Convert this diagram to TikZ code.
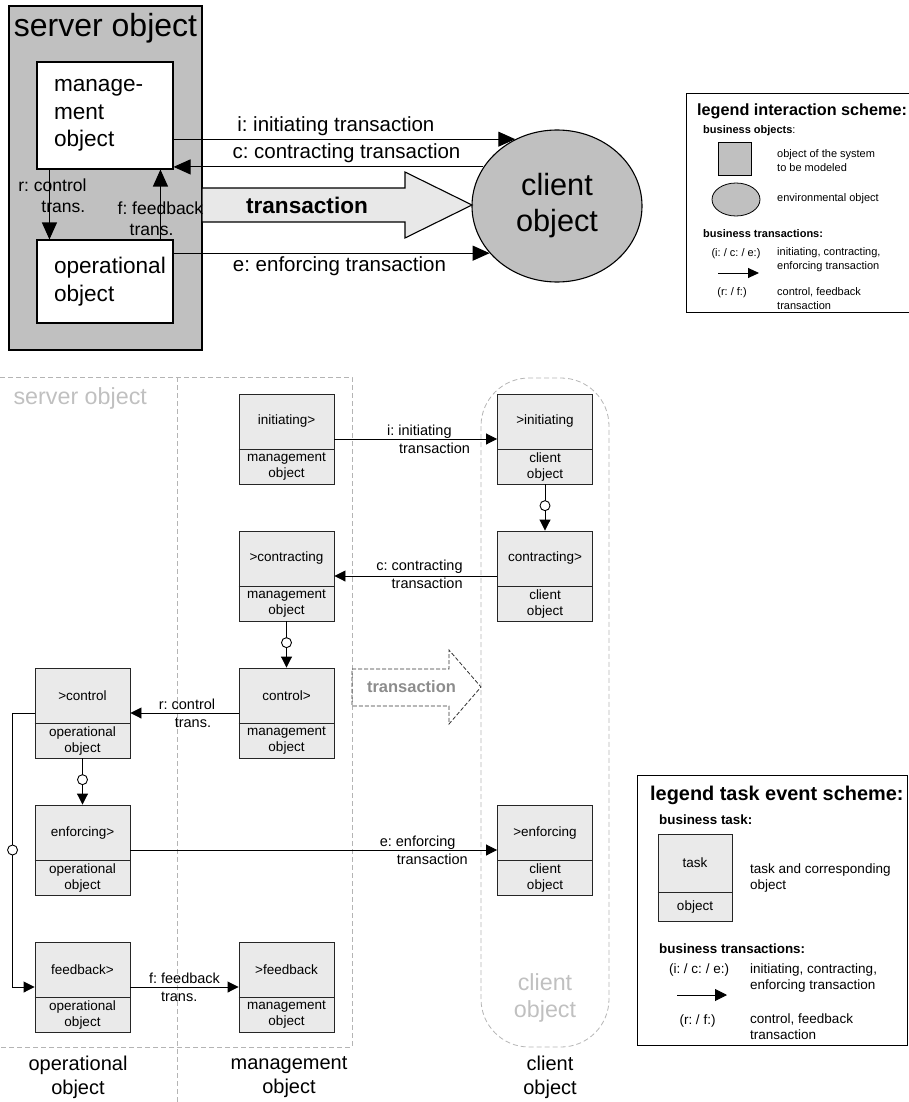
\documentclass[tikz,border=0pt]{standalone}
\usepackage{fontspec}
\setmainfont{Liberation Sans}
\usetikzlibrary{calc,arrows.meta,shapes.geometric}
\frenchspacing
\newcommand{\fsz}[2]{\fontsize{#1}{#2}\selectfont}
\definecolor{objgray}{HTML}{C0C0C0}
\definecolor{taskfill}{HTML}{EAEAEA}
\definecolor{arrowfill}{HTML}{E8E8E8}
\definecolor{lanegray}{HTML}{B4B4B4}
\tikzset{
   taskbox/.style={draw=black!85, fill=taskfill, line width=0.9pt,
                   minimum width=95pt, minimum height=90pt, inner sep=0pt},
   tasktext/.style={font=\fsz{13.5}{16}, align=center, inner sep=0pt},
}
% task box: [options]{name}{position}{divider above bottom}{task}{object}
\newcommand{\taskbox}[6][]{%
  \node[taskbox,#1] (#2) at (#3) {};
  \coordinate (#2-d) at ($(#2.south)+(0,-#4)$);
  \draw[line width=0.9pt, black!85] (#2.west |- #2-d) -- (#2.east |- #2-d);
  \node[tasktext] at ($(#2.north)!0.5!(#2-d)$) {#5};
  \node[tasktext] at ($(#2.south)!0.5!(#2-d)$) {#6};
}

\begin{document}
\begin{tikzpicture}[x=1pt, y=-1pt,
                    server/.style={draw, fill=objgray, line width=1.1pt, inner sep=0pt,
                                   minimum width=193pt, minimum height=344pt},
                    subobj/.style={draw, fill=white, line width=1.1pt, align=left,
                                   text width=102pt, inner xsep=17pt, inner ysep=0pt,
                                   font=\fsz{22.6}{27.5}},
                    bigarr/.style={-{Triangle[length=17pt,width=15pt]}, line width=1.1pt},
                    toplbl/.style={font=\fsz{20.5}{24}},
                    sidelbl/.style={font=\fsz{17.5}{21}, align=left, inner sep=0pt},
                    taskarr/.style={-{Triangle[length=11pt,width=11pt]}, line width=0.9pt},
                    lowlbl/.style={font=\fsz{14.5}{18}, align=left, inner sep=0pt},
                    evt/.style={circle, draw, fill=white, line width=0.9pt, minimum size=10pt, inner sep=0pt},
                    lane/.style={draw=lanegray, line width=0.8pt, dash pattern=on 5pt off 3pt},
                    lanetext/.style={text=objgray, font=\fsz{23.3}{27}, align=center},
                    colhead/.style={font=\fsz{20}{24}, align=center, inner sep=0pt},
                    legbox/.style={draw, line width=0.9pt, inner sep=0pt},
                    legtext/.style={font=\fsz{11}{14}, align=left, inner sep=0pt},
                    legtextb/.style={font=\fsz{13.5}{16}, align=left, inner sep=0pt}]
\useasboundingbox (0,0) rectangle (908,1102);
%
% interaction scheme
\node[server] (server) at (105.5,178) {};
\node[font=\fsz{32}{36}, anchor=base] (stitle) at (105.5,37) {server object};
\node[subobj, minimum height=107pt] (mgmt) at (105,115.5) {manage-\\ment\\object};
\node[subobj, minimum height=83pt]  (oper) at (105,281.5) {operational\\object};
\node[ellipse, draw, fill=objgray, line width=1.1pt, minimum width=170pt, minimum height=152pt,
      inner sep=0pt, align=center, font=\fsz{30.7}{36}] (client) at (557,206) {client\\object};
%
\draw[line width=1.1pt, fill=arrowfill] (202,188) -- (405,188) -- (405,172) -- (472,205)
   -- (405,238) -- (405,222) -- (202,222) -- cycle;
\node[font=\bfseries\fsz{22.6}{26}] (ttext) at (307,205) {transaction};
%
\draw[bigarr] (mgmt.east |- client.122) -- node[above, pos=0.475, toplbl] {i: initiating transaction} (client.122);
\draw[bigarr] (client.152) -- node[above, pos=0.442, toplbl] {c: contracting transaction} (mgmt.east |- client.152);
\draw[bigarr] (oper.east |- client.215) -- node[below, pos=0.525, toplbl] {e: enforcing transaction} (client.215);
\draw[bigarr] ($(mgmt.south west)+(13,0)$) -- node[sidelbl, pos=0.37, xshift=3pt] {r: control\\\hspace*{23pt}trans.}
   ($(oper.north west)+(13,0)$);
\draw[bigarr] ($(oper.north west)+(124,0)$) -- node[sidelbl, pos=0.3] {f: feedback\\\hspace*{12pt}trans.}
   ($(mgmt.south west)+(124,0)$);
%
% legend interaction scheme
\node[legbox, minimum width=234pt, minimum height=219pt] (leg1) at (803,202.5) {};
\node[font=\bfseries\fsz{16.2}{19}, anchor=base west, inner sep=0pt] (l1t) at (697,116) {legend interaction scheme:};
\node[legtext, anchor=base west] (l1o) at (703,134) {\textbf{business objects}:};
\node[draw, fill=objgray, line width=0.8pt, minimum width=33pt, minimum height=33pt, inner sep=0pt] (l1sq) at (734.5,158.5) {};
\node[legtext, anchor=west] (l1sqt) at (777,161) {object of the system\\to be modeled};
\node[ellipse, draw, fill=objgray, line width=0.8pt, minimum width=48pt, minimum height=33pt, inner sep=0pt] (l1el) at (736,199.5) {};
\node[legtext, anchor=west] (l1elt) at (777,198.5) {environmental object};
\node[legtext, anchor=base west, font=\bfseries\fsz{11}{14}] (l1tr) at (703,237) {business transactions:};
\node[legtext] (l1k1) at (736,254) {(i: / c: / e:)};
\node[legtext, anchor=west] (l1k1t) at (777,260) {initiating, contracting,\\enforcing transaction};
\coordinate (l1as) at (718,273);
\coordinate (l1ae) at (759,273);
\draw[-{Triangle[length=11pt,width=10pt]}, line width=0.9pt] (l1as) -- (l1ae);
\node[legtext] (l1k2) at (732,293) {(r: / f:)};
\node[legtext, anchor=west] (l1k2t) at (777,299) {control, feedback\\transaction};
%
% task event scheme
\draw[lane] (0,377) -- (352,377) -- (352,1047) -- (0,1047);
\draw[lane] (177,377) -- (177,1102);
\draw[lane, rounded corners=48pt] (481,378) rectangle (609,1047);
\node[lanetext, anchor=base west] (lsrv) at (10,404) {server object};
\node[lanetext] (lcli) at (545,998) {client\\object};
\node[colhead] (hop) at (78,1077.5) {operational\\object};
\node[colhead] (hmg) at (289,1077.5) {management\\object};
\node[colhead] (hcl) at (550,1077.5) {client\\object};
%
\taskbox{ini}{286.5,439}{35}{initiating>}{management\\object}
\taskbox{con}{286.5,576}{35}{>contracting}{management\\object}
\taskbox{ctl}{286.5,713}{35}{control>}{management\\object}
\taskbox{mfb}{286.5,987}{35}{>feedback}{management\\object}
\taskbox{octl}{82.5,713}{35}{>control}{operational\\object}
\taskbox{enf}{82.5,850}{35}{enforcing>}{operational\\object}
\taskbox{ofb}{82.5,987}{35}{feedback>}{operational\\object}
\taskbox{cini}{545,439}{35}{>initiating}{client\\object}
\taskbox{ccon}{545,576}{35}{contracting>}{client\\object}
\taskbox{cenf}{545,850}{35}{>enforcing}{client\\object}
%
\draw[taskarr] (ini.east) -- node[lowlbl, pos=0.579] {i: initiating\\\hspace*{12pt}transaction} (cini.west);
\draw[taskarr] (ccon.west) -- node[lowlbl, align=right, pos=0.477, yshift=2pt] {c: contracting\\transaction} (con.east);
\draw[taskarr] (ctl.west) -- node[lowlbl, pos=0.477] {r: control\\\hspace*{16pt}trans.} (octl.east);
\draw[taskarr] (enf.east) -- node[lowlbl, pos=0.8] {e: enforcing\\\hspace*{17pt}transaction} (cenf.west);
\draw[taskarr] (ofb.east) -- node[lowlbl, pos=0.5] {f: feedback\\\hspace*{12pt}trans.} (mfb.west);
\draw[taskarr] (cini.south) -- node[evt, pos=0.46] {} (ccon.north);
\draw[taskarr] (con.south) -- node[evt, pos=0.46] {} (ctl.north);
\draw[taskarr] (octl.south) -- node[evt, pos=0.46] {} (enf.north);
\draw[taskarr] (octl.west) -- ++(-22,0) |- node[evt, pos=0.25] {} (ofb.west);
%
\draw[line width=0.8pt, black!80, dash pattern=on 4pt off 2pt] (352,669) -- (449,669) -- (449,650)
   -- (481,687) -- (449,724) -- (449,706) -- (352,706) -- cycle;
\node[font=\bfseries\fsz{16.5}{19}, text=black!45] (dtr) at (411.5,687) {transaction};
%
% legend task event scheme
\node[legbox, minimum width=270pt, minimum height=270pt] (leg2) at (772,910) {};
\node[font=\bfseries\fsz{19.9}{23}, anchor=base west, inner sep=0pt] (l2t) at (650,800) {legend task event scheme:};
\node[legtextb, anchor=base west, font=\bfseries\fsz{13.4}{16}] (l2bt) at (659,824) {business task:};
\taskbox[minimum width=74pt, minimum height=87pt]{ltask}{695,877.5}{29}{task}{object}
\node[legtextb, anchor=west] (l2tt) at (750,878) {task and corresponding\\object};
\node[legtextb, anchor=base west, font=\bfseries\fsz{13.4}{16}] (l2tr) at (659,953) {business transactions:};
\node[legtextb] (l2k1) at (699,970) {(i: / c: / e:)};
\node[legtextb, anchor=west] (l2k1t) at (750,977.5) {initiating, contracting,\\enforcing transaction};
\coordinate (l2as) at (677,995);
\coordinate (l2ae) at (727,995);
\draw[-{Triangle[length=12pt,width=12pt]}, line width=0.9pt] (l2as) -- (l2ae);
\node[legtextb] (l2k2) at (697.5,1021) {(r: / f:)};
\node[legtextb, anchor=west] (l2k2t) at (750,1027) {control, feedback\\transaction};
\end{tikzpicture}
\end{document}
